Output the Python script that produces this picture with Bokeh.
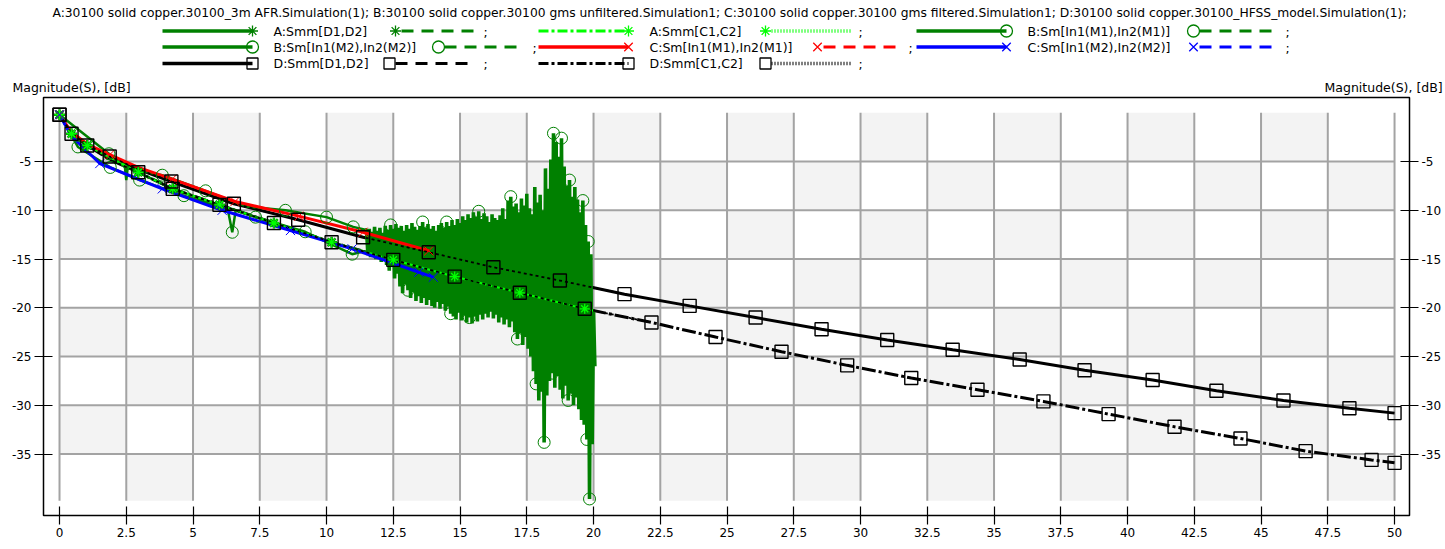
import numpy as np
from bokeh.plotting import figure
from bokeh.layouts import column
from bokeh.models import Range1d, LinearAxis, FixedTicker, Label
from bokeh.embed import file_html
from bokeh.resources import INLINE

FONT = "DejaVu Sans"
GREEN = "#008000"
LIME = "#00ff00"
RED = "#ff0000"
BLUE = "#0000ff"
BLACK = "#000000"

TITLE = ("A:30100 solid copper.30100_3m AFR.Simulation(1); "
         "B:30100 solid copper.30100 gms unfiltered.Simulation1; "
         "C:30100 solid copper.30100 gms filtered.Simulation1; "
         "D:30100 solid copper.30100_HFSS_model.Simulation(1);")
Y_TITLE = "Magnitude(S), [dB]"

# ---------------- axes ----------------
x_ticks = [0, 2.5, 5, 7.5, 10, 12.5, 15, 17.5, 20, 22.5, 25, 27.5, 30,
           32.5, 35, 37.5, 40, 42.5, 45, 47.5, 50]
x_tick_labels = ["0", "2.5", "5", "7.5", "10", "12.5", "15", "17.5", "20",
                 "22.5", "25", "27.5", "30", "32.5", "35", "37.5", "40",
                 "42.5", "45", "47.5", "50"]
y_ticks = [-5, -10, -15, -20, -25, -30, -35]
y_tick_labels = ["-5", "-10", "-15", "-20", "-25", "-30", "-35"]
# x positions (GHz) at which the two unit titles sit above the plot frame
y_title_x = [0.45, 49.59]
grid_top = 0.0
grid_bottom = -39.8

# ---------------- D: HFSS model ----------------
d12_f = [0, 0.45, 1.04, 1.88, 2.95, 4.19, 6.53, 8.94, 11.37, 13.83, 16.25,
         18.74, 21.16, 23.6, 26.07, 28.54, 31.0, 33.45, 35.96, 38.39, 40.94,
         43.33, 45.84, 48.31, 50.0]
d12_db = [-0.2, -2.1, -3.3, -4.48, -5.8, -7.05, -9.33, -10.97, -12.76, -14.3,
          -15.84, -17.2, -18.6, -19.8, -21.0, -22.2, -23.3, -24.3, -25.3,
          -26.4, -27.4, -28.5, -29.5, -30.3, -30.8]
d12_marks = [0, 3, 5, 6, 7, 8, 9, 10, 11, 12, 13, 14, 15, 16, 17, 18, 19,
             20, 21, 22, 23, 24]

dc12_f = [0, 0.45, 1.04, 1.88, 2.95, 4.24, 5.99, 8.03, 10.19, 12.5, 14.8,
          17.24, 19.67, 22.17, 24.57, 27.04, 29.5, 31.9, 34.38, 36.85, 39.29,
          41.76, 44.23, 46.67, 49.14, 50.0]
dc12_db = [-0.2, -2.15, -3.35, -4.8, -6.1, -7.8, -9.44, -11.3, -13.27, -15.08,
           -16.8, -18.46, -20.1, -21.5, -23.0, -24.5, -25.9, -27.2, -28.4,
           -29.6, -30.9, -32.2, -33.4, -34.7, -35.6, -35.9]
dc12_marks = [0, 1, 2, 4, 5, 6, 7, 8, 9, 10, 11, 12, 13, 14, 15, 16, 17, 18,
              19, 20, 21, 22, 23, 24, 25]

# ---------------- C: filtered ----------------
c_m1_f = [0, 0.45, 1.04, 1.88, 2.95, 4.22, 6.57, 8.96, 11.37, 13.83]
c_m1_db = [-0.2, -2.0, -3.2, -4.3, -5.6, -6.8, -9.1, -10.6, -12.25, -14.15]
c_m1_marks = [0, 3, 5, 6, 7, 8, 9]

c_m2_f = [0, 0.45, 1.51, 3.85, 6.09, 8.65, 10.96, 13.46, 14.0]
c_m2_db = [-0.2, -2.4, -5.2, -7.8, -10.0, -12.07, -13.95, -16.35, -16.86]
c_m2_marks = [0, 2, 3, 4, 5, 6, 7, 8]

# ---------------- A: 3m AFR ----------------
a_f = [0, 0.45, 1.04, 2.95, 4.24, 5.99, 8.03, 10.19, 12.5, 14.8, 17.24,
       19.67, 20.0]
a_d12_db = [-0.2, -2.15, -3.35, -6.1, -7.8, -9.44, -11.3, -13.27, -15.08,
            -16.8, -18.46, -20.1, -20.3]
a_c12_db = [-0.2, -2.15, -3.35, -6.1, -7.8, -9.44, -11.3, -13.27, -15.08,
            -16.8, -18.46, -20.1, -20.3]
a_marks = [0, 1, 2, 3, 4, 5, 6, 7, 8, 9, 10, 11]

# ---------------- B: unfiltered ----------------
b_m1_f = [0, 1.85, 2.45, 2.5, 2.55, 3.85, 5.47, 7.0, 8.46, 10.0, 11.0, 11.45]
b_m1_db = [-0.2, -4.2, -5.6, -6.9, -5.7, -6.4, -8.0, -9.6, -10.0, -10.7,
           -11.7, -12.0]
b_m1_marks = [1, 5, 6, 8, 9, 10]

# unfiltered sweep above 11.5 GHz: upper / lower swing of each step
b_sweep_start = 11.5
b_sweep_step = 0.1
b_swing_hi = [-12.0, -11.9, -12.2, -11.7, -12.1, -11.8, -12.3, -11.6, -12.0, -11.5,
              -11.9, -11.4, -11.8, -11.6, -12.1, -11.5, -11.9, -11.3, -11.7, -12.0,
              -11.6, -11.2, -11.8, -11.4, -11.9, -11.6, -12.1, -11.5, -11.3, -11.8,
              -11.2, -11.6, -11.0, -11.5, -10.9, -11.3, -10.6, -11.0, -10.4, -10.8,
              -10.2, -10.7, -10.1, -10.9, -10.3, -10.6, -11.2, -10.4, -10.8, -11.0,
              -10.5, -9.8, -10.9, -9.0, -8.6, -9.6, -9.3, -10.2, -8.8, -9.5,
              -8.3, -9.8, -10.4, -7.6, -9.2, -8.4, -10.0, -5.7, -7.8, -4.8,
              -2.1, -3.0, -4.5, -2.6, -5.5, -7.5, -6.9, -8.6, -7.6, -8.9,
              -10.2, -9.0, -11.5, -13.2, -14.5, -20.2]
b_swing_lo = [-14.6, -14.8, -14.5, -15.0, -14.7, -15.3, -15.0, -15.6, -16.2, -15.8,
              -17.0, -16.5, -17.8, -18.5, -17.6, -18.2, -19.0, -18.4, -19.3, -18.8,
              -19.5, -19.0, -19.7, -19.2, -19.8, -20.0, -19.4, -20.1, -19.6, -20.3,
              -19.9, -20.6, -20.9, -21.2, -20.5, -21.3, -20.8, -21.5, -21.0, -21.6,
              -20.9, -21.4, -20.7, -21.2, -20.6, -21.0, -20.4, -21.1, -20.7, -21.5,
              -21.0, -21.7, -21.2, -22.0, -21.4, -22.5, -23.2, -22.6, -23.8, -23.0,
              -24.2, -25.0, -26.5, -27.8, -29.5, -28.6, -33.8, -29.0, -27.5, -26.7,
              -28.2, -27.0, -28.4, -29.3, -28.0, -29.5, -28.8, -30.0, -29.2, -30.4,
              -31.5, -32.0, -33.5, -39.6, -34.0, -26.0]
b_hi_marks = [9, 21, 30, 42, 54, 70, 73, 76, 81, 83]
b_lo_marks = [15, 31, 38, 56, 63, 66, 69, 75, 82, 83]

b_m2_f = [0, 0.69, 1.9, 3.0, 4.66, 6.3, 6.47, 6.6, 7.34, 9.2, 10.96, 11.4]
b_m2_db = [-0.2, -3.5, -5.6, -6.9, -8.5, -9.9, -12.25, -10.0, -10.7, -12.2,
           -14.5, -14.2]
b_m2_marks = [1, 2, 3, 4, 6, 8, 9, 10]

# ---------------- legend layout (header, pixel coordinates) ----------------
# (label, colour, first dash, marker, second dash, column, row, 2nd marker x, ';' x)
DASH = "12 8"
DASHDOT = "10 3 3 3"
DOT = "1 2"
legend_entries = [
    ("A:Smm[D1,D2]", GREEN, "solid", "asterisk", DASH, 0, 0, 395, 483),
    ("A:Smm[C1,C2]", LIME, DASHDOT, "asterisk", DOT, 1, 0, 765, 858),
    ("B:Sm[In1(M1),In2(M1)]", GREEN, "solid", "circle", DASH, 2, 0, 1193, 1285),
    ("B:Sm[In1(M2),In2(M2)]", GREEN, "solid", "circle", DASH, 0, 1, 438, 532),
    ("C:Sm[In1(M1),In2(M1)]", RED, "solid", "x", DASH, 1, 1, 817, 908),
    ("C:Sm[In1(M2),In2(M2)]", BLUE, "solid", "x", DASH, 2, 1, 1193, 1285),
    ("D:Smm[D1,D2]", BLACK, "solid", "square", DASH, 0, 2, 389, 483),
    ("D:Smm[C1,C2]", BLACK, DASHDOT, "square", DOT, 1, 2, 765, 858),
]
legend_col_x = [162, 538, 916]
legend_row_y = [30.5, 46.5, 63.0]
marker_size = {"asterisk": 11, "circle": 12, "x": 12, "square": 11}

W = 1445
HDR_H = 75
FRAME_L = 43
FRAME_R = 1409

# header: its frame shares the main plot's horizontal extent, so the range
# is chosen to make one unit equal one canvas pixel
hdr = figure(width=W, height=HDR_H, x_range=Range1d(FRAME_L, FRAME_R),
             y_range=Range1d(HDR_H, 0), toolbar_location=None, output_backend="svg",
             min_border=0, x_axis_location=None, y_axis_location=None)
hdr.grid.visible = False
hdr.outline_line_color = None
hdr.background_fill_color = "white"
hdr.border_fill_color = "white"


def header_text(x, y, text, align="left", size="12.5px"):
    hdr.add_layout(Label(x=x, y=y, text=text, text_align=align,
                         text_baseline="middle", text_font=FONT,
                         text_font_size=size, text_color=BLACK))


header_text(729, 12.5, TITLE, "center", "12.3px")


def legend_marker(x, y, kind, color):
    hdr.scatter([x], [y], marker=kind, size=marker_size[kind], line_color=color,
                fill_color=None, line_width=1.3)


for label, color, dash1, mk, dash2, ci, ri, mx2, semi_x in legend_entries:
    x0 = legend_col_x[ci]
    y = legend_row_y[ri]
    w1 = 3.5 if dash1 == "solid" else 3
    hdr.line([x0, x0 + 90], [y, y], line_color=color, line_width=w1, line_dash=dash1)
    legend_marker(x0 + 90, y, mk, color)
    header_text(x0 + 111, y, label)
    w2 = 3.5 if dash2 == DOT else 3
    hdr.line([mx2 + 6, semi_x - 8], [y, y], line_color=color, line_width=w2, line_dash=dash2)
    legend_marker(mx2, y, mk, color)
    header_text(semi_x, y + 1, ";")

# ---------------- main plot ----------------
p = figure(width=W, height=549 - HDR_H, x_range=Range1d(-0.6, 50.56),
           y_range=Range1d(-41.3, 1.57), toolbar_location=None, output_backend="svg",
           min_border_left=FRAME_L, min_border_right=W - FRAME_R, min_border_top=22,
           min_border_bottom=34, x_axis_location=None, y_axis_location=None)
p.grid.visible = False
p.outline_line_color = BLACK
p.outline_line_width = 1.5
p.background_fill_color = "white"
p.border_fill_color = "white"


def style_axis(ax, ticks, labels):
    ax.ticker = FixedTicker(ticks=ticks)
    ax.major_label_overrides = {t: s for t, s in zip(ticks, labels)}
    ax.major_tick_in = 9
    ax.major_tick_out = 9
    ax.major_tick_line_color = BLACK
    ax.major_tick_line_width = 1.2
    ax.minor_tick_line_color = None
    ax.axis_line_color = BLACK
    ax.major_label_text_font = FONT
    ax.major_label_text_font_size = "12px"
    ax.major_label_text_color = BLACK
    ax.major_label_standoff = 3


xa = LinearAxis()
style_axis(xa, x_ticks, x_tick_labels)
p.add_layout(xa, "below")
yl = LinearAxis()
style_axis(yl, y_ticks, y_tick_labels)
p.add_layout(yl, "left")
yr = LinearAxis()
style_axis(yr, y_ticks, y_tick_labels)
p.add_layout(yr, "right")

# unit titles over both value axes
ta = LinearAxis()
style_axis(ta, y_title_x, [Y_TITLE, Y_TITLE])
ta.major_tick_in = 0
ta.major_tick_out = 0
ta.major_tick_line_color = None
ta.axis_line_color = None
ta.major_label_text_font_size = "12.5px"
ta.major_label_standoff = 3
p.add_layout(ta, "above")

# checkerboard plot area
row_edges = [grid_top] + y_ticks + [grid_bottom]
ql, qr, qt, qb = [], [], [], []
for i in range(len(x_ticks) - 1):
    for j in range(len(row_edges) - 1):
        if (i + j) % 2 == 0:
            ql.append(x_ticks[i]); qr.append(x_ticks[i + 1])
            qt.append(row_edges[j]); qb.append(row_edges[j + 1])
p.quad(left=ql, right=qr, top=qt, bottom=qb, fill_color="#f3f3f3", line_color=None)

grid_col = "#a3a3a3"
p.segment(x0=x_ticks, y0=[grid_top] * len(x_ticks), x1=x_ticks,
          y1=[grid_bottom] * len(x_ticks), line_color=grid_col, line_width=2)
p.segment(x0=[x_ticks[0]] * len(y_ticks), y0=y_ticks, x1=[x_ticks[-1]] * len(y_ticks),
          y1=y_ticks, line_color=grid_col, line_width=2)

# D traces (thick)
p.line(d12_f, d12_db, line_color=BLACK, line_width=3)
p.line(dc12_f, dc12_db, line_color=BLACK, line_width=3, line_dash="14 3 3 3")

# B traces
b_f = np.round(b_sweep_start + b_sweep_step * np.arange(len(b_swing_hi)), 3)
zig_f, zig_db = [], []
for f, hi, lo in zip(b_f, b_swing_hi, b_swing_lo):
    zig_f += [f, f + b_sweep_step / 2]
    zig_db += [hi, lo]
p.line(b_m2_f, b_m2_db, line_color=GREEN, line_width=2.5)
p.line(list(b_m1_f), list(b_m1_db), line_color=GREEN, line_width=2.5)
p.line([b_m1_f[-1]] + zig_f, [b_m1_db[-1]] + zig_db, line_color=GREEN, line_width=3.6)

# A traces
p.line(a_f, a_d12_db, line_color=GREEN, line_width=2.5)
p.line(a_f, a_c12_db, line_color=LIME, line_width=2, line_dash=DASHDOT)

# C traces
p.line(c_m1_f, c_m1_db, line_color=RED, line_width=3)
p.line(c_m2_f, c_m2_db, line_color=BLUE, line_width=3)

# D traces through the unfiltered band
n12 = sum(1 for f in d12_f if f <= 20)
nc12 = sum(1 for f in dc12_f if f <= 20)
p.line(d12_f[:n12 + 1], d12_db[:n12 + 1], line_color=BLACK, line_width=1.8, line_dash="3 3")
p.line(dc12_f[:nc12 + 1], dc12_db[:nc12 + 1], line_color=BLACK, line_width=1.8, line_dash="3 3")


# markers
def pick(xs, ys, idx):
    return [xs[i] for i in idx], [ys[i] for i in idx]


bx, by = pick(b_m1_f, b_m1_db, b_m1_marks)
bx += [b_f[i] for i in b_hi_marks] + [b_f[i] + b_sweep_step / 2 for i in b_lo_marks]
by += [b_swing_hi[i] for i in b_hi_marks] + [b_swing_lo[i] for i in b_lo_marks]
p.scatter(bx, by, marker="circle", size=12, fill_color=None, line_color=GREEN, line_width=1)
bx2, by2 = pick(b_m2_f, b_m2_db, b_m2_marks)
p.scatter(bx2, by2, marker="circle", size=12, fill_color=None, line_color=GREEN, line_width=1)

ax_, ay_ = pick(a_f, a_d12_db, a_marks)
p.scatter(ax_, ay_, marker="asterisk", size=11, line_color=GREEN, line_width=2.5)
ax2, ay2 = pick(a_f, a_c12_db, a_marks)
p.scatter(ax2, ay2, marker="asterisk", size=10, line_color=LIME, line_width=1.3)

cx, cy = pick(c_m1_f, c_m1_db, c_m1_marks)
p.scatter(cx, cy, marker="x", size=13, line_color=RED, line_width=1)
cx2, cy2 = pick(c_m2_f, c_m2_db, c_m2_marks)
p.scatter(cx2, cy2, marker="x", size=13, line_color=BLUE, line_width=1)

dx, dy = pick(d12_f, d12_db, d12_marks)
p.scatter(dx, dy, marker="square", size=13, fill_color=None, line_color=BLACK, line_width=1.4)
dx2, dy2 = pick(dc12_f, dc12_db, dc12_marks)
p.scatter(dx2, dy2, marker="square", size=13, fill_color=None, line_color=BLACK, line_width=1.4)

layout = column(hdr, p, spacing=0)
open("out.html", "w").write(file_html(layout, INLINE))
